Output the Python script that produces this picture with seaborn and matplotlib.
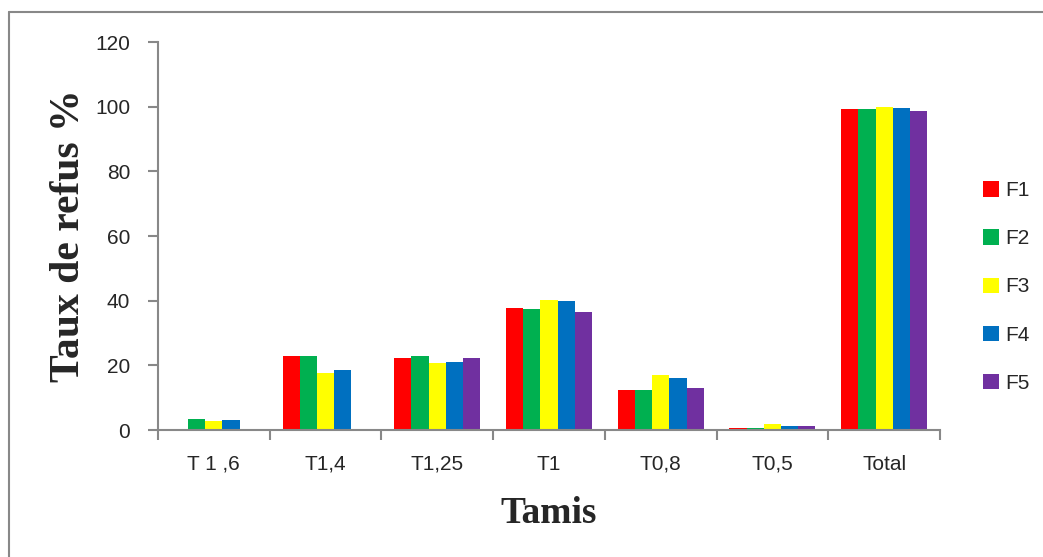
import matplotlib
matplotlib.use("Agg")
import matplotlib.pyplot as plt
from matplotlib.lines import Line2D
from matplotlib.patches import Patch
import seaborn as sns
import pandas as pd

categories = ["T 1 ,6", "T1,4", "T1,25", "T1", "T0,8", "T0,5", "Total"]
series_names = ["F1", "F2", "F3", "F4", "F5"]
F1 = [0.0, 22.9, 22.3, 37.8, 12.4, 0.6, 99.2]
F2 = [3.3, 22.9, 22.9, 37.3, 12.4, 0.6, 99.3]
F3 = [2.7, 17.6, 20.6, 40.2, 17.0, 1.9, 99.9]
F4 = [3.1, 18.5, 21.0, 40.0, 16.1, 1.2, 99.7]
F5 = [0.0, 0.0, 22.2, 36.5, 13.0, 1.2, 98.8]
yticks = [0, 20, 40, 60, 80, 100, 120]
colors = ["#FF0000", "#00B050", "#FFFF00", "#0070C0", "#7030A0"]

rows = []
for name, vals in zip(series_names, [F1, F2, F3, F4, F5]):
    for c, v in zip(categories, vals):
        rows.append({"Tamis": c, "Serie": name, "Valeur": v})
df = pd.DataFrame(rows)

sns.set_style("white")
plt.rcParams["font.family"] = ["Liberation Sans", "DejaVu Sans"]

fig = plt.figure(figsize=(10.43, 5.57), dpi=100)
ax = fig.add_axes([158 / 1043, 1 - 430 / 557, (940 - 158) / 1043, (430 - 42) / 557])

sns.barplot(data=df, x="Tamis", y="Valeur", hue="Serie", order=categories,
            hue_order=series_names, palette=colors, width=0.77, ax=ax,
            errorbar=None, legend=False, saturation=1, linewidth=0)

ax.set_ylim(0, 120)
ax.set_xlim(-0.5, len(categories) - 0.5)
ax.set_yticks(yticks)
ax.set_yticklabels([str(t) for t in yticks], fontsize=15)
ax.set_xticks(range(len(categories)))
ax.set_xticklabels(categories, fontsize=15)
ax.set_xticks([i - 0.5 for i in range(len(categories) + 1)], minor=True)
ax.tick_params(left=True, bottom=True, which="both")
ax.tick_params(axis="x", which="major", length=0, pad=18)
ax.tick_params(axis="x", which="minor", length=7, width=1.5, color="#888888", direction="out")
ax.tick_params(axis="y", which="major", length=7, width=1.5, color="#888888", direction="out", pad=13)

for s in ["top", "right"]:
    ax.spines[s].set_visible(False)
for s in ["left", "bottom"]:
    ax.spines[s].set_visible(True)
    ax.spines[s].set_color("#888888")
    ax.spines[s].set_linewidth(1.5)

ax.set_xlabel("Tamis", fontsize=27, fontweight="bold", family=["Liberation Serif"], labelpad=16)
ax.set_ylabel("Taux de refus %", fontsize=30, fontweight="bold", family=["Liberation Serif"], labelpad=5)

handles = [Patch(facecolor=c, edgecolor="none") for c in colors]
fig.legend(handles, series_names, loc="center left", bbox_to_anchor=(973 / 1043, 1 - 287 / 557),
           frameon=False, fontsize=15, handlelength=0.75, handleheight=0.75,
           labelspacing=1.4, handletextpad=0.3, borderpad=0)

fig.add_artist(Line2D([9 / 1043, 9 / 1043], [0, 1 - 12 / 557], transform=fig.transFigure,
                      color="#888888", linewidth=1.5))
fig.add_artist(Line2D([9 / 1043, 1], [1 - 12 / 557, 1 - 12 / 557], transform=fig.transFigure,
                      color="#888888", linewidth=1.5))

fig.savefig("out.png", dpi=100)
